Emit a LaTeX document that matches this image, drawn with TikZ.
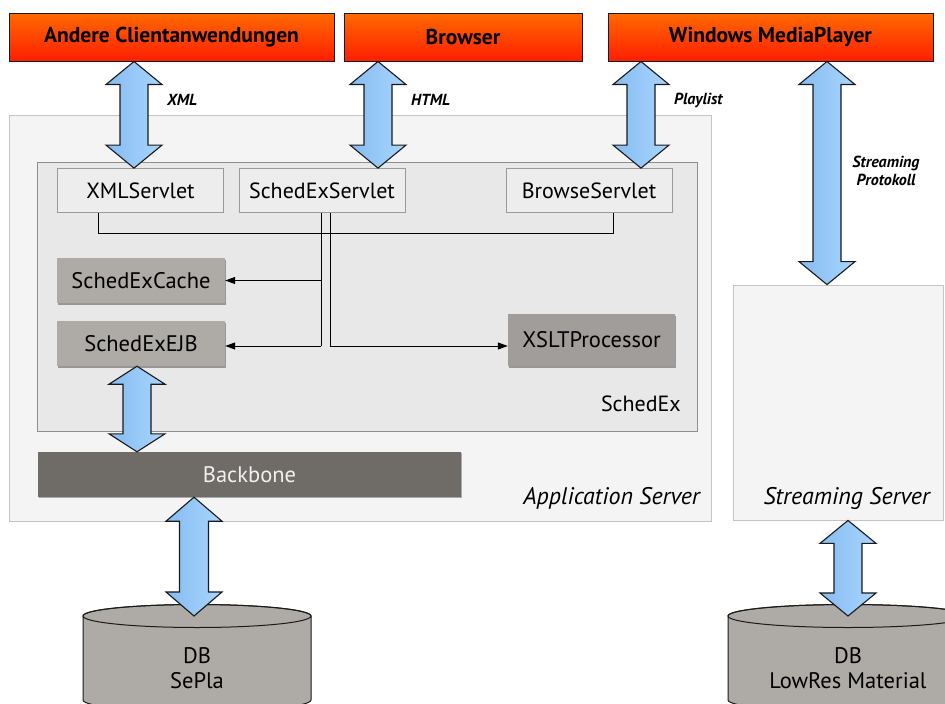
\documentclass[tikz,border=0pt]{standalone}
\usepackage{fontspec}
\setmainfont{PT Sans}
\usetikzlibrary{arrows.meta,shadows,calc}

\definecolor{orTop}{HTML}{FF6A00}
\definecolor{orBot}{HTML}{FF1E00}
\definecolor{blueL}{HTML}{86BCF0}
\definecolor{blueR}{HTML}{A8D5FF}
\definecolor{appFill}{HTML}{F4F4F4}
\definecolor{appLine}{HTML}{C4C4C4}
\definecolor{sxFill}{HTML}{E8E8E8}
\definecolor{sxLine}{HTML}{8E8E8E}
\definecolor{srvFill}{HTML}{EDEDED}
\definecolor{srvLine}{HTML}{9A9A9A}
\definecolor{compFill}{HTML}{AEAAA5}
\definecolor{xsltFill}{HTML}{A09D9A}
\definecolor{bbFill}{HTML}{6F6B67}
\definecolor{dbFill}{HTML}{AEAAA5}
\definecolor{ink}{HTML}{1A1A1A}

% double-headed block arrow between two points on one vertical line
% #1 top point, #2 bottom point, #3 half head width, #4 half shaft width, #5 head length
\newcommand\dblarrow[5]{%
  \draw[blockarrow] let \p1=(#1), \p2=(#2) in
    (\x1,\y1) -- ({\x1+#3},{\y1-#5}) -- ({\x1+#4},{\y1-#5})
    -- ({\x1+#4},{\y2+#5}) -- ({\x1+#3},{\y2+#5}) -- (\x1,\y2)
    -- ({\x1-#3},{\y2+#5}) -- ({\x1-#4},{\y2+#5})
    -- ({\x1-#4},{\y1-#5}) -- ({\x1-#3},{\y1-#5}) -- cycle;}

% database cylinder: #1 centre x, #2 top ellipse centre y, #3 half width, #4 bottom y
\newcommand\dbcyl[4]{%
  \path[dbshape] (#1-#3,#2) -- (#1-#3,#4)
    arc[start angle=180,end angle=360,x radius=#3 pt,y radius=11.5pt]
    -- (#1+#3,#2)
    arc[start angle=0,end angle=180,x radius=#3 pt,y radius=11.5pt] -- cycle;
  \draw[ink,line width=1pt] (#1,#2) ellipse[x radius=#3 pt,y radius=11.5pt];}

\tikzset{
  client/.style={draw=ink,line width=1pt,top color=orTop,bottom color=orBot,
    minimum height=48pt,inner sep=0pt,font=\fontsize{21.5}{24}\selectfont\bfseries},
  server/.style={draw=appLine,fill=appFill,line width=0.8pt,inner sep=0pt,
    drop shadow={shadow xshift=1.2pt,shadow yshift=-1.2pt,fill=black,opacity=0.45}},
  container/.style={draw=sxLine,fill=sxFill,line width=0.8pt,inner sep=0pt},
  servlet/.style={draw=srvLine,fill=srvFill,line width=0.8pt,inner sep=0pt,
    minimum width=166pt,minimum height=44pt,font=\fontsize{22}{24}\selectfont},
  comp/.style={fill=compFill,inner sep=0pt,minimum width=168pt,minimum height=45pt,
    font=\fontsize{22.5}{24}\selectfont,
    drop shadow={shadow xshift=1.2pt,shadow yshift=-1.5pt,fill=black,opacity=0.35}},
  blockarrow/.style={draw=ink,line width=1.1pt,line join=miter,
    left color=blueL,right color=blueR},
  dbshape/.style={draw=ink,line width=1pt,fill=dbFill},
  wire/.style={draw=black,line width=1pt},
  wirearrow/.style={wire,-{Triangle[length=10pt,width=7pt]}},
  tag/.style={font=\fontsize{16}{18}\selectfont\itshape\bfseries,inner sep=0pt},
  caption/.style={font=\fontsize{24}{26}\selectfont\itshape,inner sep=0pt,anchor=east},
  dbtext/.style={font=\fontsize{22.5}{25.5}\selectfont,align=center,inner sep=0pt}
}

\begin{document}
\begin{tikzpicture}[x=1pt,y=-1pt]
\useasboundingbox (0,0) rectangle (945,704);
\clip (0,0) rectangle (945,704);
\fill[white] (0,0) rectangle (945,704);

% servers
\node[server,minimum width=702pt,minimum height=406pt] (appsrv) at (360,318) {};
\node[server,minimum width=210pt,minimum height=235pt] (strsrv) at (838,402.5) {};
\node[caption] (applbl) at (700,498) {Application Server};
\node[caption] (strlbl) at (930,498) {Streaming Server};

% SchedEx container
\node[container,minimum width=660pt,minimum height=269pt] (schedex) at (367,296.5) {};
\node[font=\fontsize{22}{24}\selectfont,inner sep=0pt,anchor=east] (sxlbl) at (681,404) {SchedEx};

% servlets
\node[servlet] (xmls)  at (140.5,190.5) {XMLServlet};
\node[servlet] (sesrv) at (322,190.5) {SchedExServlet};
\node[servlet] (brows) at (589,190.5) {BrowseServlet};

% components
\node[comp] (cache) at (141,280.5) {SchedExCache};
\node[comp] (ejb)   at (141,343.5) {SchedExEJB};
\node[comp,fill=xsltFill,minimum width=167pt,minimum height=52pt] (xslt) at (591.5,340) {XSLTProcessor};

% backbone
\node[fill=bbFill,inner sep=0pt,minimum width=423pt,minimum height=45pt,
  font=\fontsize{22.5}{24}\selectfont,text=white!94!black,
  drop shadow={shadow xshift=1pt,shadow yshift=-1.2pt,fill=black,opacity=0.3}]
  (backbone) at (249.5,474.5) {Backbone};

% clients
\node[client,minimum width=325pt] (andere)  at (171.5,37) {Andere Clientanwendungen};
\node[client,minimum width=238pt] (browser) at (463,37) {Browser};
\node[client,minimum width=325pt] (wmp)     at (770.5,37) {Windows MediaPlayer};

% databases
\dbcyl{197}{616}{114}{700}
\dbcyl{848}{616}{120}{700}
\coordinate (db1top) at (197,616);
\coordinate (db2top) at (848,616);
\node[dbtext] (db1) at (197,668) {DB\\SePla};
\node[dbtext] (db2) at (848,668) {DB\\LowRes Material};

% servlet bus and SchedExServlet branches
\coordinate (busL) at (98,233);
\coordinate (busR) at (613,233);
\coordinate (v1) at (321,346);
\coordinate (v2) at (330,346);
\draw[wire] (xmls.south -| busL) -- (busL) -- (busR) -- (brows.south -| busR);
\draw[wire] (sesrv.south -| v1) -- (v1);
\draw[wirearrow] (v1 |- cache.east) -- (cache.east);
\draw[wirearrow] (v1) -- (v1 -| ejb.east);
\draw[wirearrow] (sesrv.south -| v2) -- (v2) -- (v2 -| xslt.west);

% block arrows
\coordinate (ax1) at (134,0);
\coordinate (ax2) at (378,0);
\coordinate (ax3) at (641,0);
\coordinate (ax4) at (827,0);
\coordinate (ax5) at (137,0);
\coordinate (ax6) at (194,0);
\coordinate (ax7) at (848,0);
\dblarrow{andere.south -| ax1}{xmls.north -| ax1}{28pt}{14pt}{23pt}
\dblarrow{browser.south -| ax2}{sesrv.north -| ax2}{28pt}{14pt}{23pt}
\dblarrow{wmp.south -| ax3}{brows.north -| ax3}{28pt}{14pt}{23pt}
\dblarrow{wmp.south -| ax4}{strsrv.north -| ax4}{28pt}{14pt}{23pt}
\dblarrow{ejb.south -| ax5}{backbone.north -| ax5}{28pt}{14pt}{18pt}
\dblarrow{backbone.south -| ax6}{db1top}{28pt}{14.5pt}{24pt}
\dblarrow{strsrv.south -| ax7}{db2top}{28pt}{14pt}{23pt}

% protocol labels
\node[tag,anchor=west] (lxml)  at (167,100) {XML};
\node[tag,anchor=west] (lhtml) at (411,100) {HTML};
\node[tag,anchor=west] (lpl)   at (674,100) {Playlist};
\node[tag,align=center] (lstr) at (886,171) {Streaming\\Protokoll};
\end{tikzpicture}
\end{document}
